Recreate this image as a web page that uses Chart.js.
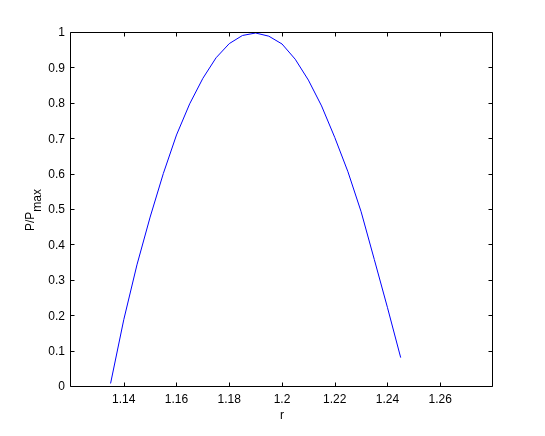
<!DOCTYPE html>
<html>
<head>
<meta charset="utf-8">
<script src="https://cdn.jsdelivr.net/npm/chart.js@4/dist/chart.umd.min.js"></script>
<style>
  html, body { margin: 0; padding: 0; background: #ffffff; }
  #wrap { width: 545px; height: 436px; }
</style>
</head>
<body>
<div id="wrap"><canvas id="c" width="545" height="436"></canvas></div>
<script>
// ---- data ----
const rValues = [1.135, 1.14, 1.145, 1.15, 1.155, 1.16, 1.165, 1.17, 1.175, 1.18, 1.185, 1.19,
                 1.195, 1.2, 1.205, 1.21, 1.215, 1.22, 1.225, 1.23, 1.235, 1.24, 1.245];
const pRatio  = [0.01, 0.19, 0.345, 0.48, 0.603, 0.712, 0.80, 0.872, 0.93, 0.97, 0.993, 1.0,
                 0.991, 0.969, 0.926, 0.867, 0.794, 0.705, 0.608, 0.495, 0.36, 0.224, 0.083];
const xTicks = [1.14, 1.16, 1.18, 1.2, 1.22, 1.24, 1.26];
const xTickLabels = ['1.14', '1.16', '1.18', '1.2', '1.22', '1.24', '1.26'];
const yTicks = [0, 0.1, 0.2, 0.3, 0.4, 0.5, 0.6, 0.7, 0.8, 0.9, 1];
const yTickLabels = ['0', '0.1', '0.2', '0.3', '0.4', '0.5', '0.6', '0.7', '0.8', '0.9', '1'];
const xTitle = 'r';
const yTitleMain = 'P/P';
const yTitleSub = 'max';

const FONT = '"Liberation Sans", Arial, Helvetica, sans-serif';

const points = rValues.map((r, i) => ({ x: r, y: pRatio[i] }));

const frameAndTitles = {
  id: 'frameAndTitles',
  afterDraw(chart) {
    const ctx = chart.ctx;
    const a = chart.chartArea;
    const xs = chart.scales.x, ys = chart.scales.y;
    const L = a.left - 0.5, R = a.right - 0.5, T = a.top - 0.5, B = a.bottom - 0.5;
    const tl = 4;
    ctx.save();
    ctx.strokeStyle = '#000000';
    ctx.lineWidth = 1;
    ctx.beginPath();
    ctx.rect(L, T, R - L, B - T);
    ctx.stroke();
    ctx.beginPath();
    xs.ticks.forEach(t => {
      const px = Math.round(xs.getPixelForValue(t.value)) + 0.5;
      ctx.moveTo(px, B); ctx.lineTo(px, B - tl);
      ctx.moveTo(px, T); ctx.lineTo(px, T + tl);
    });
    ys.ticks.forEach(t => {
      const py = Math.round(ys.getPixelForValue(t.value)) - 0.5;
      ctx.moveTo(L, py); ctx.lineTo(L + tl, py);
      ctx.moveTo(R, py); ctx.lineTo(R - tl, py);
    });
    ctx.stroke();

    // axis titles
    ctx.fillStyle = '#000000';
    ctx.font = '12px ' + FONT;
    ctx.textAlign = 'center';
    ctx.textBaseline = 'middle';
    ctx.fillText(xTitle, (a.left + a.right) / 2, 416);

    const cy = (a.top + a.bottom) / 2;
    ctx.translate(33.5, cy);
    ctx.rotate(-Math.PI / 2);
    ctx.textAlign = 'left';
    ctx.textBaseline = 'alphabetic';
    ctx.font = '12px ' + FONT;
    const w1 = ctx.measureText(yTitleMain).width;
    const w2 = ctx.measureText(yTitleSub).width;
    const start = -(w1 + w2) / 2;
    ctx.fillText(yTitleMain, start, 0);
    ctx.fillText(yTitleSub, start + w1, 7.5);
    ctx.restore();
  }
};

new Chart(document.getElementById('c'), {
  type: 'line',
  data: {
    datasets: [{
      data: points,
      borderColor: 'rgb(0,0,255)',
      borderWidth: 1,
      pointRadius: 0,
      tension: 0,
      fill: false
    }]
  },
  options: {
    responsive: false,
    animation: false,
    devicePixelRatio: 1,
    layout: { padding: { left: 0, top: 33, right: 52, bottom: 0 } },
    plugins: { legend: { display: false }, tooltip: { enabled: false } },
    scales: {
      x: {
        type: 'linear',
        min: 1.12, max: 1.28,
        grid: { display: false, drawTicks: false, tickLength: 0 },
        border: { display: false },
        afterBuildTicks(scale) { scale.ticks = xTicks.map(v => ({ value: v })); },
        afterFit(scale) { scale.height = 49; },
        ticks: {
          padding: 5,
          color: '#000000',
          font: { family: FONT, size: 12 },
          maxRotation: 0,
          autoSkip: false,
          callback: (v, i) => xTickLabels[i]
        }
      },
      y: {
        type: 'linear',
        min: 0, max: 1,
        grid: { display: false, drawTicks: false, tickLength: 0 },
        border: { display: false },
        afterBuildTicks(scale) { scale.ticks = yTicks.map(v => ({ value: v })); },
        afterFit(scale) { scale.width = 71; },
        ticks: {
          padding: 6,
          color: '#000000',
          font: { family: FONT, size: 12 },
          autoSkip: false,
          callback: (v, i) => yTickLabels[i]
        }
      }
    }
  },
  plugins: [frameAndTitles]
});
</script>
</body>
</html>
